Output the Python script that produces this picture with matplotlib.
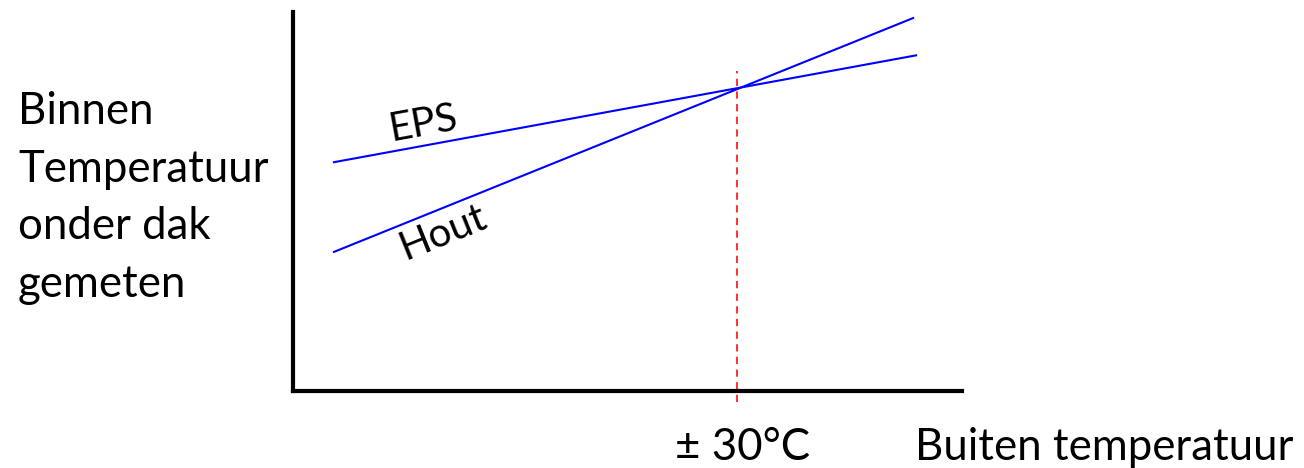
import numpy as np
import matplotlib
matplotlib.use("Agg")
import matplotlib.pyplot as plt

# schematic data (arbitrary units, x in degC outside)
buiten_eps = [2.77, 42.1]
binnen_eps = [22.7, 33.3]
buiten_hout = [2.77, 41.9]
binnen_hout = [13.8, 37.0]
kruispunt_x = 30
kruispunt_y = [-1.1, 31.7]

plt.rcParams['font.family'] = ['Lato', 'DejaVu Sans']

W, H = 1304, 468
fig = plt.figure(figsize=(W / 100, H / 100), dpi=100)
ax = fig.add_axes([293 / W, (H - 391) / H, (962 - 293) / W, (391 - 12) / H])

ax.plot(buiten_eps, binnen_eps, color='#0000ff', lw=1.5)
ax.plot(buiten_hout, binnen_hout, color='#0000ff', lw=1.5)
ax.plot([kruispunt_x, kruispunt_x], kruispunt_y, color='#ff2020', lw=1.3,
        ls=(0, (4, 3)), clip_on=False)

ax.set_xlim(0, 45.2)
ax.set_ylim(0, 37.6)
for s in ['top', 'right']:
    ax.spines[s].set_visible(False)
for s in ['left', 'bottom']:
    ax.spines[s].set_linewidth(3)
ax.set_xticks([])
ax.set_yticks([])

ax.text(423 / W, 1 - 124 / H, 'EPS', transform=fig.transFigure, fontsize=29,
        rotation=10.3, ha='center', va='center')
ax.text(443 / W, 1 - 232 / H, 'Hout', transform=fig.transFigure, fontsize=29,
        rotation=22, ha='center', va='center')

fig.text(18 / W, 1 - 198 / H, 'Binnen\nTemperatuur\nonder dak\ngemeten',
         fontsize=31.5, ha='left', va='center', linespacing=1.5)
fig.text(743 / W, 1 - 447 / H, '\u00b1 30\u00b0C', fontsize=31.5, ha='center', va='center')
fig.text(915 / W, 1 - 447 / H, 'Buiten temperatuur', fontsize=31.5, ha='left', va='center')

fig.savefig('out.png', dpi=100)
